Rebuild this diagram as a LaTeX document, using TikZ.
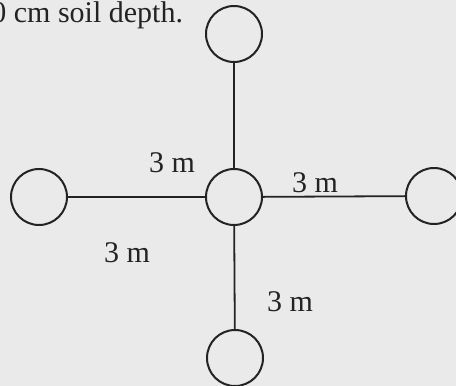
\documentclass[tikz,border=0pt]{standalone}
\usepackage{fontspec}
\setmainfont{Liberation Serif}
\usepackage{xcolor}
\definecolor{paper}{RGB}{234,234,234}
\definecolor{ink}{RGB}{35,35,35}

\begin{document}
\begin{tikzpicture}[x=0.5pt, y=-0.5pt, font=\fontsize{15}{18}\selectfont,
  well/.style={draw=ink, line width=1pt, circle, minimum size=28pt, inner sep=0pt},
  lbl/.style={anchor=base, inner sep=0pt, text=ink},
  link/.style={draw=ink, line width=0.9pt}]
\fill[paper] (0,0) rectangle (456,386);
\clip (0,0) rectangle (456,386);
\node[well] (ctr) at (234,197) {};
\node[well] (top) at (234,34) {};
\node[well] (bot) at (235,358) {};
\node[well] (lft) at (39,197) {};
\node[well] (rgt) at (434,196) {};
\node[anchor=base west, inner sep=0pt, text=ink] (depth) at (-9,22) {0 cm soil depth.};
\node[lbl] (lab1) at (172,172) {3 m};
\node[lbl] (lab2) at (315,192) {3 m};
\node[lbl] (lab3) at (127,262) {3 m};
\node[lbl] (lab4) at (290,311) {3 m};
\draw[link] (top)--(ctr);
\draw[link] (ctr)--(bot);
\draw[link] (lft)--(ctr);
\draw[link] (ctr)--(rgt);
\end{tikzpicture}
\end{document}
